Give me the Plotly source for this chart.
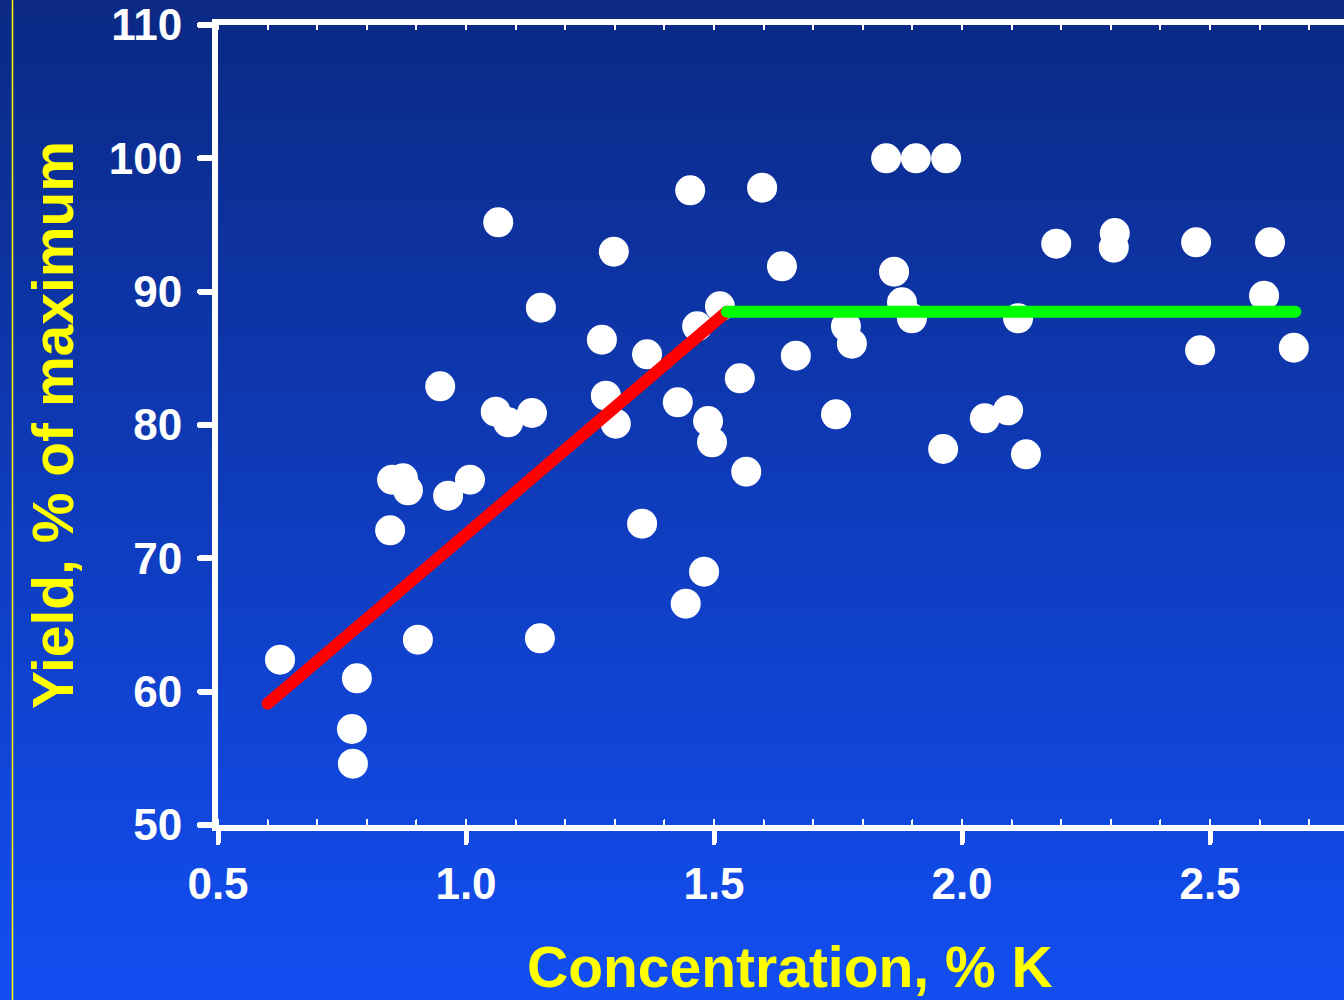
import base64
import struct
import zlib

import plotly.graph_objects as go

# ---------------- data ----------------
conc_k = [0.625, 0.770, 0.772, 0.780, 0.851, 0.873, 0.883, 0.847, 0.903, 0.948,
          0.964, 1.008, 1.060, 1.085, 1.133, 1.149, 1.065, 1.151, 1.298, 1.274,
          1.365, 1.282, 1.302, 1.355, 1.452, 1.597, 1.637, 1.512, 1.466, 1.552,
          1.665, 1.427, 1.488, 1.496, 1.565, 1.480, 1.443, 1.847, 1.907, 1.968,
          2.190, 1.863, 1.879, 1.899, 1.766, 1.778, 1.746, 1.962, 2.046, 2.093,
          2.129, 2.113, 2.308, 2.306, 2.472, 2.621, 2.609, 2.480, 2.669]
yield_pct = [62.4, 57.2, 54.6, 61.0, 75.9, 76.0, 75.1, 72.1, 63.9, 82.9,
             74.7, 75.9, 81.0, 80.2, 80.9, 64.0, 95.2, 88.8, 93.0, 86.4,
             85.3, 82.2, 80.1, 72.6, 97.6, 97.8, 91.9, 88.9, 87.4, 83.5,
             85.2, 81.7, 80.3, 78.7, 76.5, 69.0, 66.6, 100.0, 100.0, 100.0,
             93.6, 91.5, 89.2, 88.0, 87.4, 86.1, 80.8, 78.2, 80.5, 81.1,
             77.8, 88.0, 94.4, 93.3, 93.7, 93.7, 89.7, 85.6, 85.8]

# linear-plateau fit
rise_x = [0.60, 1.526]
rise_y = [59.1, 88.5]
plateau_x = [1.526, 2.672]
plateau_y = [88.5, 88.5]

x_ticks = [0.5, 1.0, 1.5, 2.0, 2.5]
x_tick_labels = ["0.5", "1.0", "1.5", "2.0", "2.5"]
y_ticks = [50, 60, 70, 80, 90, 100, 110]
y_tick_labels = ["50", "60", "70", "80", "90", "100", "110"]

x_title = "Concentration, % K"
y_title = "Yield, % of maximum"

# ---------------- layout constants ----------------
W, H = 1344, 1000
ML, MT, MB, MR = 218, 25, 175, 0
PW, PH = W - ML - MR, H - MT - MB
PX_PER_UNIT_X = 496.0
X_RANGE = [0.5, 0.5 + PW / PX_PER_UNIT_X]
Y_RANGE = [50, 110]

FONT = "Liberation Sans, Arial, sans-serif"
WHITE = "#FFFFFF"
YELLOW = "#FFFF00"


def gradient_png(height, top, bottom):
    rows = []
    for i in range(height):
        t = i / (height - 1)
        c = [round(top[k] + (bottom[k] - top[k]) * t) for k in range(3)]
        rows.append(b"\x00" + bytes(c))
    raw = b"".join(rows)

    def chunk(tag, data):
        return (struct.pack(">I", len(data)) + tag + data +
                struct.pack(">I", zlib.crc32(tag + data) & 0xFFFFFFFF))

    png = b"\x89PNG\r\n\x1a\n"
    png += chunk(b"IHDR", struct.pack(">IIBBBBB", 1, height, 8, 2, 0, 0, 0))
    png += chunk(b"IDAT", zlib.compress(raw, 9))
    png += chunk(b"IEND", b"")
    return "data:image/png;base64," + base64.b64encode(png).decode()


bg_src = gradient_png(H, (11, 41, 132), (18, 78, 242))

fig = go.Figure()

fig.add_trace(go.Scatter(
    x=conc_k, y=yield_pct, mode="markers",
    marker=dict(size=30, color=WHITE, line=dict(width=0)),
    showlegend=False, hoverinfo="x+y", cliponaxis=False,
))
fig.add_trace(go.Scatter(
    x=rise_x, y=rise_y, mode="lines",
    line=dict(color="#FF0000", width=12),
    showlegend=False, cliponaxis=False,
))
fig.add_trace(go.Scatter(
    x=plateau_x, y=plateau_y, mode="lines",
    line=dict(color="#00FF00", width=12),
    showlegend=False, cliponaxis=False,
))

fig.update_layout(
    width=W, height=H,
    margin=dict(l=ML, r=MR, t=MT, b=MB, pad=0),
    paper_bgcolor="#0E3CC0",
    plot_bgcolor="rgba(0,0,0,0)",
    font=dict(family=FONT, color=WHITE),
    showlegend=False,
    images=[dict(
        source=bg_src, xref="paper", yref="paper",
        x=-ML / PW, y=1 + MT / PH, sizex=W / PW, sizey=H / PH,
        xanchor="left", yanchor="top", sizing="stretch", layer="below",
    )],
    xaxis=dict(
        range=X_RANGE, tickmode="array", tickvals=x_ticks, ticktext=x_tick_labels,
        ticks="outside", ticklen=12, tickwidth=5, tickcolor=WHITE,
        showline=True, linewidth=6, linecolor=WHITE, mirror=False,
        showgrid=False, zeroline=False,
        tickfont=dict(family=FONT, size=44, color=WHITE, weight="bold"),
        ticklabelstandoff=3,
        minor=dict(ticks="inside", dtick=0.1, tick0=0.5, ticklen=5,
                   tickwidth=2, tickcolor=WHITE, showgrid=False),
    ),
    xaxis2=dict(
        range=X_RANGE, overlaying="x", side="top", anchor="y",
        showline=True, linewidth=6, linecolor=WHITE,
        ticks="", showticklabels=False, showgrid=False, zeroline=False,
        tickmode="array", tickvals=x_ticks,
        minor=dict(ticks="inside", dtick=0.1, tick0=0.5, ticklen=5,
                   tickwidth=2, tickcolor=WHITE, showgrid=False),
    ),
    yaxis=dict(
        range=Y_RANGE, tickmode="array", tickvals=y_ticks, ticktext=y_tick_labels,
        ticks="outside", ticklen=12, tickwidth=6, tickcolor=WHITE,
        showline=True, linewidth=6, linecolor=WHITE, mirror=False,
        showgrid=False, zeroline=False,
        tickfont=dict(family=FONT, size=44, color=WHITE, weight="bold"),
        ticklabelstandoff=9,
    ),
    annotations=[
        dict(text=x_title, xref="paper", yref="paper",
             x=(790 - ML) / PW, y=(PH + MT - 967) / PH,
             xanchor="center", yanchor="middle", showarrow=False,
             font=dict(family=FONT, size=57, color=YELLOW, weight="bold")),
        dict(text=y_title, xref="paper", yref="paper", textangle=-90,
             x=(53 - ML) / PW, y=(PH + MT - 425) / PH,
             xanchor="center", yanchor="middle", showarrow=False,
             font=dict(family=FONT, size=57, color=YELLOW, weight="bold")),
    ],
    shapes=[dict(
        type="line", xref="paper", yref="paper",
        x0=(12.5 - ML) / PW, x1=(12.5 - ML) / PW,
        y0=-MB / PH, y1=1 + MT / PH,
        line=dict(color=YELLOW, width=1.5), layer="above",
    )],
)

# invisible trace so the top (mirror) axis is rendered with the same range
fig.add_trace(go.Scatter(x=[X_RANGE[0]], y=[Y_RANGE[0]], xaxis="x2", mode="markers",
                         marker=dict(size=0, opacity=0), showlegend=False,
                         hoverinfo="skip"))

post_js = (
    "document.body.style.margin='0';"
    "document.body.style.overflow='hidden';"
    "function rc(){document.querySelectorAll('.scatterlayer .js-line,"
    " .xaxislayer-above path, .yaxislayer-above path')"
    ".forEach(function(p){p.style.strokeLinecap='round';});}"
    "rc();setTimeout(rc,50);setTimeout(rc,300);"
)

fig.write_html(
    "out.html", include_plotlyjs=True, config={"displayModeBar": False},
    post_script=post_js,
)
